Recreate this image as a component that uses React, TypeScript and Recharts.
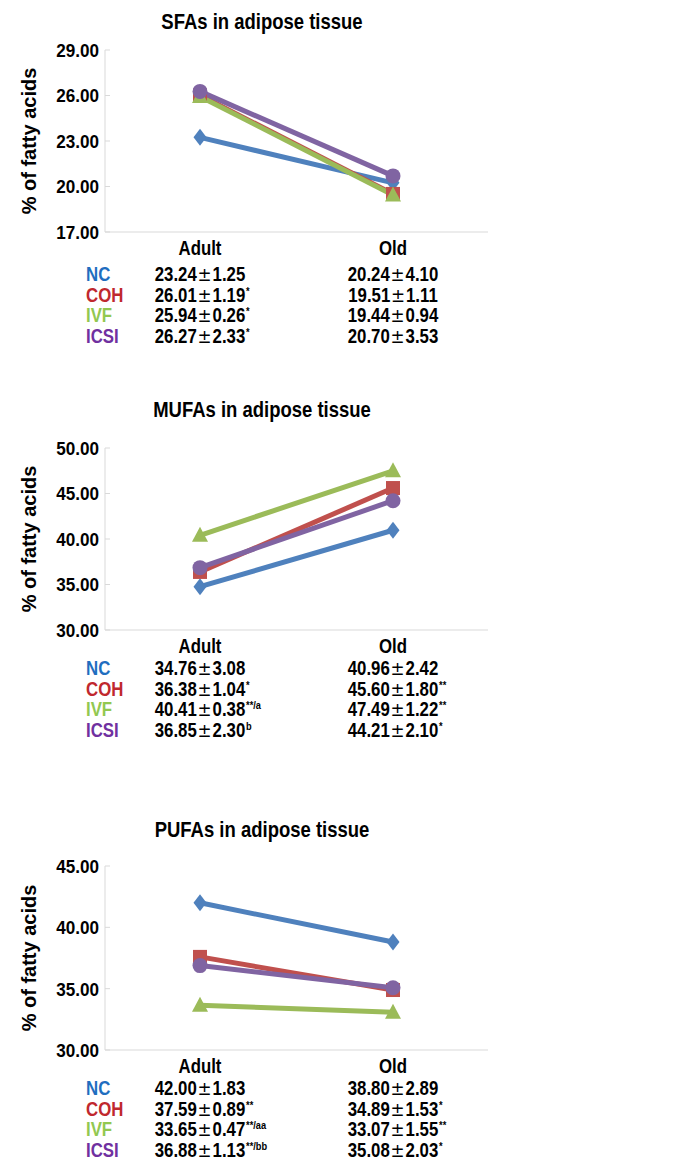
import React from 'react';
import { LineChart, Line, XAxis, YAxis } from 'recharts';

const categories = ['Adult', 'Old'];
const groups = ['NC', 'COH', 'IVF', 'ICSI'];

// SFAs
const sfaMeans = [
  [23.24, 20.24],
  [26.01, 19.51],
  [25.94, 19.44],
  [26.27, 20.7],
];
const sfaSD = [
  [1.25, 4.1],
  [1.19, 1.11],
  [0.26, 0.94],
  [2.33, 3.53],
];
const sfaSig = [
  ['', ''],
  ['*', ''],
  ['*', ''],
  ['*', ''],
];
const sfaTicks = [17, 20, 23, 26, 29];

// MUFAs
const mufaMeans = [
  [34.76, 40.96],
  [36.38, 45.6],
  [40.41, 47.49],
  [36.85, 44.21],
];
const mufaSD = [
  [3.08, 2.42],
  [1.04, 1.8],
  [0.38, 1.22],
  [2.3, 2.1],
];
const mufaSig = [
  ['', ''],
  ['*', '**'],
  ['**/a', '**'],
  ['b', '*'],
];
const mufaTicks = [30, 35, 40, 45, 50];

// PUFAs
const pufaMeans = [
  [42.0, 38.8],
  [37.59, 34.89],
  [33.65, 33.07],
  [36.88, 35.08],
];
const pufaSD = [
  [1.83, 2.89],
  [0.89, 1.53],
  [0.47, 1.55],
  [1.13, 2.03],
];
const pufaSig = [
  ['', ''],
  ['**', '*'],
  ['**/aa', '**'],
  ['**/bb', '*'],
];
const pufaTicks = [30, 35, 40, 45];

const lineColors = ['#4F81BD', '#C0504D', '#9BBB59', '#8064A2'];
const textColors = ['#1F6EBF', '#C0282E', '#92C850', '#7030A0'];

const FONT = "'Liberation Sans', Arial, sans-serif";
const NARROW = 0.84;

const PLOT_LEFT = 105;
const PLOT_RIGHT = 488;
const COL_X = [200, 393];
const ROW_STEP = 20.7;

const Marker = (idx: number) => (props: any) => {
  const { cx, cy, key } = props;
  if (cx == null || cy == null) return null;
  const c = lineColors[idx];
  if (idx === 0) {
    return <polygon key={key} points={`${cx},${cy - 8.5} ${cx + 6.5},${cy} ${cx},${cy + 8.5} ${cx - 6.5},${cy}`} fill={c} />;
  }
  if (idx === 1) {
    return <rect key={key} x={cx - 7} y={cy - 7} width={14} height={14} fill={c} />;
  }
  if (idx === 2) {
    return <polygon key={key} points={`${cx},${cy - 8.5} ${cx + 8},${cy + 6.5} ${cx - 8},${cy + 6.5}`} fill={c} />;
  }
  return <circle key={key} cx={cx} cy={cy} r={7.5} fill={c} />;
};

const YTick = (props: any) => {
  const { x, y, payload } = props;
  return (
    <text
      transform={`translate(${x},${y}) scale(0.9,1)`}
      textAnchor="end"
      dy="0.36em"
      fill="#000"
      fontFamily={FONT}
      fontWeight="bold"
      fontSize={19}
    >
      {Number(payload.value).toFixed(2)}
    </text>
  );
};

const XTick = (props: any) => {
  const { x, y, payload } = props;
  return (
    <text
      transform={`translate(${x},${y}) scale(${NARROW},1)`}
      textAnchor="middle"
      dy="0.71em"
      fill="#000"
      fontFamily={FONT}
      fontWeight="bold"
      fontSize={20}
    >
      {payload.value}
    </text>
  );
};

interface PanelProps {
  title: string;
  means: number[][];
  sds: number[][];
  sigs: string[][];
  ticks: number[];
  titleY: number;
  plotTop: number;
  plotBottom: number;
  rowsTop: number;
}

const Panel: React.FC<PanelProps> = ({ title, means, sds, sigs, ticks, titleY, plotTop, plotBottom, rowsTop }) => {
  const data = categories.map((cat, ci) => {
    const row: any = { cat };
    groups.forEach((g, gi) => {
      row[g] = means[gi][ci];
    });
    return row;
  });
  const chartTop = plotTop - 12;
  const chartHeight = plotBottom - plotTop + 12 + 40;
  return (
    <>
      <div
        style={{
          position: 'absolute',
          top: titleY - 13,
          left: 0,
          width: 524,
          textAlign: 'center',
          fontFamily: FONT,
          fontWeight: 'bold',
          fontSize: 22,
          lineHeight: '26px',
          color: '#000',
          transform: `scaleX(${NARROW})`,
          transformOrigin: '262px 0',
        }}
      >
        {title}
      </div>
      <div style={{ position: 'absolute', top: chartTop, left: 0 }}>
        <LineChart
          width={685}
          height={chartHeight}
          data={data}
          margin={{ top: 12, right: 685 - PLOT_RIGHT, left: 10, bottom: 0 }}
        >
          <XAxis
            dataKey="cat"
            stroke="#D9D9D9"
            tickLine={false}
            tickSize={0}
            tickMargin={9}
            height={40}
            padding={{ left: COL_X[0] - PLOT_LEFT, right: PLOT_RIGHT - COL_X[1] }}
            tick={<XTick />}
          />
          <YAxis
            width={PLOT_LEFT - 10}
            domain={[ticks[0], ticks[ticks.length - 1]]}
            ticks={ticks}
            interval={0}
            stroke="#D9D9D9"
            tickSize={-5}
            tickMargin={11}
            tick={<YTick />}
            label={{
              value: '% of fatty acids',
              angle: -90,
              position: 'insideLeft',
              offset: 19,
              style: { textAnchor: 'middle', fill: '#000', fontFamily: FONT, fontWeight: 'bold', fontSize: 20 },
            }}
          />
          {groups.map((g, gi) => (
            <Line
              key={g}
              dataKey={g}
              stroke={lineColors[gi]}
              strokeWidth={5}
              dot={Marker(gi)}
              activeDot={false}
              isAnimationActive={false}
            />
          ))}
        </LineChart>
      </div>
      {groups.map((g, gi) => (
        <div
          key={g}
          style={{
            position: 'absolute',
            top: rowsTop + gi * ROW_STEP - 10,
            left: 0,
            width: 685,
            height: 20,
            fontFamily: FONT,
            fontWeight: 'bold',
            fontSize: 20,
            lineHeight: '20px',
          }}
        >
          <span
            style={{
              position: 'absolute',
              left: 86,
              color: textColors[gi],
              transform: `scaleX(${NARROW})`,
              transformOrigin: '0 0',
            }}
          >
            {g}
          </span>
          {categories.map((c, ci) => (
            <div
              key={c}
              style={{
                position: 'absolute',
                left: COL_X[ci] - 100,
                width: 200,
                height: 20,
                textAlign: 'center',
                color: '#000',
                transform: `scaleX(${NARROW})`,
                transformOrigin: '100px 0',
              }}
            >
              <span style={{ position: 'relative', whiteSpace: 'nowrap' }}>
                {means[gi][ci].toFixed(2)}
                <span style={{ fontWeight: 'normal', fontFamily: "'DejaVu Sans', sans-serif", margin: '0 1px' }}>±</span>
                {sds[gi][ci].toFixed(2)}
                {sigs[gi][ci] ? (
                  <span
                    style={{
                      position: 'absolute',
                      left: '100%',
                      top: 2,
                      marginLeft: 1,
                      fontSize: 11,
                      lineHeight: '11px',
                      whiteSpace: 'nowrap',
                    }}
                  >
                    {sigs[gi][ci]}
                  </span>
                ) : null}
              </span>
            </div>
          ))}
        </div>
      ))}
    </>
  );
};

export default function App() {
  return (
    <div style={{ position: 'absolute', top: 0, left: 0, width: 685, height: 1170, background: '#fff' }}>
      <Panel
        title="SFAs in adipose tissue"
        means={sfaMeans}
        sds={sfaSD}
        sigs={sfaSig}
        ticks={sfaTicks}
        titleY={22}
        plotTop={50}
        plotBottom={232}
        rowsTop={274}
      />
      <Panel
        title="MUFAs in adipose tissue"
        means={mufaMeans}
        sds={mufaSD}
        sigs={mufaSig}
        ticks={mufaTicks}
        titleY={410}
        plotTop={448}
        plotBottom={630}
        rowsTop={668}
      />
      <Panel
        title="PUFAs in adipose tissue"
        means={pufaMeans}
        sds={pufaSD}
        sigs={pufaSig}
        ticks={pufaTicks}
        titleY={830}
        plotTop={866}
        plotBottom={1050}
        rowsTop={1088}
      />
    </div>
  );
}
